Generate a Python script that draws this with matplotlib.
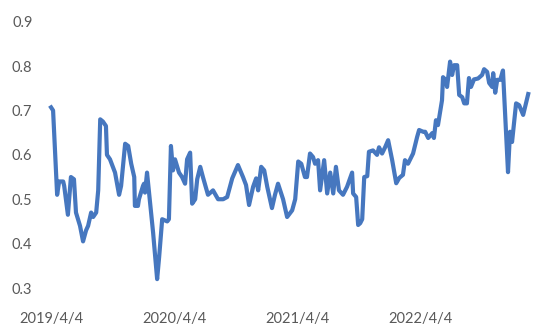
import datetime as dt
import matplotlib
matplotlib.use("Agg")
import matplotlib.pyplot as plt
import matplotlib.dates as mdates

# =========================
# Data (days after 2019/4/4, value)
# =========================
start = dt.date(2019, 4, 4)

days = [0, 6, 18, 24, 36, 39, 50, 59, 68, 74, 86, 95, 104, 110, 119, 125, 134, 140,
        146, 154, 163, 166, 175, 190, 202, 208, 220, 229, 238, 247, 249, 258, 261,
        273, 276, 279, 285, 291, 303, 315, 321, 330, 345, 350, 356, 362, 368, 374,
        380, 389, 398, 404, 413, 419, 428, 434, 443, 451, 466, 481, 496, 511, 523,
        538, 555, 570, 579, 588, 600, 609, 615, 624, 633, 642, 650, 656, 665, 674,
        689, 701, 716, 725, 734, 743, 754, 760, 769, 778, 784, 793, 799, 811, 820,
        829, 838, 846, 855, 867, 879, 894, 897, 906, 912, 918, 924, 930, 939, 944,
        956, 968, 974, 983, 992, 1001, 1013, 1025, 1034, 1045, 1051, 1060, 1075,
        1087, 1093, 1105, 1111, 1120, 1132, 1137, 1143, 1149, 1161, 1164, 1173,
        1176, 1185, 1191, 1197, 1206, 1212, 1221, 1227, 1235, 1241, 1247, 1256,
        1268, 1280, 1286, 1295, 1301, 1310, 1313, 1319, 1325, 1334, 1342, 1357,
        1363, 1369, 1381, 1390, 1402, 1417]

values = [0.707, 0.700, 0.510, 0.540, 0.540, 0.530, 0.465, 0.550, 0.545, 0.470,
          0.440, 0.405, 0.430, 0.440, 0.470, 0.460, 0.470, 0.520, 0.680, 0.675,
          0.665, 0.600, 0.590, 0.560, 0.510, 0.530, 0.625, 0.620, 0.580, 0.550,
          0.485, 0.485, 0.500, 0.530, 0.535, 0.515, 0.560, 0.515, 0.425, 0.320,
          0.370, 0.455, 0.450, 0.455, 0.620, 0.565, 0.590, 0.575, 0.560, 0.550,
          0.535, 0.590, 0.605, 0.490, 0.500, 0.545, 0.573, 0.550, 0.510, 0.520,
          0.500, 0.500, 0.505, 0.547, 0.577, 0.550, 0.532, 0.487, 0.528, 0.547,
          0.520, 0.573, 0.565, 0.528, 0.500, 0.480, 0.510, 0.535, 0.500, 0.460,
          0.475, 0.500, 0.585, 0.580, 0.550, 0.550, 0.603, 0.595, 0.580, 0.588,
          0.520, 0.588, 0.513, 0.560, 0.513, 0.573, 0.520, 0.510, 0.528, 0.560,
          0.513, 0.505, 0.442, 0.446, 0.455, 0.550, 0.552, 0.607, 0.610, 0.600,
          0.617, 0.603, 0.617, 0.633, 0.588, 0.536, 0.548, 0.555, 0.588, 0.580,
          0.603, 0.640, 0.656, 0.652, 0.652, 0.638, 0.649, 0.638, 0.678, 0.667,
          0.723, 0.775, 0.768, 0.753, 0.810, 0.780, 0.802, 0.802, 0.735, 0.730,
          0.716, 0.716, 0.773, 0.753, 0.770, 0.772, 0.780, 0.793, 0.787, 0.762,
          0.753, 0.784, 0.740, 0.769, 0.769, 0.790, 0.561, 0.652, 0.629, 0.716,
          0.712, 0.690, 0.737]

tick_dates = [dt.date(2019, 4, 4), dt.date(2020, 4, 4), dt.date(2021, 4, 4), dt.date(2022, 4, 4)]
tick_labels = ["2019/4/4", "2020/4/4", "2021/4/4", "2022/4/4"]
y_ticks = [0.3, 0.4, 0.5, 0.6, 0.7, 0.8, 0.9]

dates = [start + dt.timedelta(days=d) for d in days]

# =========================
# Draw
# =========================
plt.rcParams["font.family"] = ["Lato", "DejaVu Sans"]

fig = plt.figure(figsize=(5.5, 3.33), dpi=100)
ax = fig.add_axes([45 / 550, 1 - 288 / 333, 495 / 550, 266.3 / 333])

ax.plot(dates, values, color="#4677BF", linewidth=3.0, solid_joinstyle="round")

ax.set_ylim(0.3, 0.9)
ax.set_yticks(y_ticks)
ax.set_yticklabels([f"{v:.1f}" for v in y_ticks])
ax.set_xlim(start - dt.timedelta(days=18), start + dt.timedelta(days=1452))
ax.set_xticks(tick_dates)
ax.set_xticklabels(tick_labels)

for s in ax.spines.values():
    s.set_visible(False)
ax.tick_params(axis="both", length=0, labelsize=10.5, colors="#595959")
ax.tick_params(axis="x", pad=17)
ax.tick_params(axis="y", pad=9)

fig.savefig("out.png", dpi=100)
